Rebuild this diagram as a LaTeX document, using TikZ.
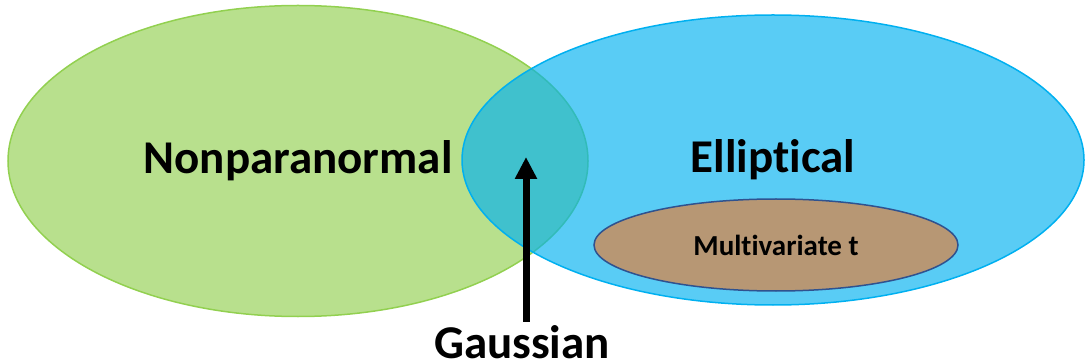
\documentclass[tikz,border=0pt]{standalone}
\usepackage{fontspec}
\setsansfont{Carlito}[Ligatures=NoCommon]
\usetikzlibrary{shapes.geometric,arrows.meta}
\definecolor{npgreen}{HTML}{92D050}
\definecolor{elblue}{HTML}{00B0F0}
\definecolor{mtbrown}{HTML}{B79774}
\definecolor{mtedge}{HTML}{2F528F}
\tikzset{
  venn/.style={ellipse, inner sep=0pt, line width=1.5pt, fill opacity=0.65, text opacity=1},
  bigtext/.style={font=\sffamily\bfseries\fontsize{47}{47}\selectfont},
  smalltext/.style={font=\sffamily\bfseries\fontsize{29}{29}\selectfont},
}
\begin{document}
\begin{tikzpicture}[x=1pt, y=-1pt]
    \useasboundingbox (0,0) rectangle (1086,363);
    % the two sets
    \node[venn, bigtext, draw=npgreen, fill=npgreen, minimum width=580pt, minimum height=311pt] (nonpara) at (298,161) {Nonparanormal};
    \node[venn, bigtext, draw=elblue, fill=elblue, minimum width=622pt, minimum height=290pt] (ellip) at (773,160) {Elliptical};
    \node[ellipse, smalltext, inner sep=0pt, draw=mtedge, fill=mtbrown, line width=1.5pt, minimum width=364pt, minimum height=92pt] (multit) at (776,245) {Multivariate t};
    % intersection label
    \node[bigtext] (gauss) at (522,342) {Gaussian};
    \coordinate (gtip) at (526,157);
    \draw[-{Triangle[width=21pt, length=22pt]}, line width=7pt] (gauss.north -| gtip) -- (gtip);
\end{tikzpicture}
\end{document}
